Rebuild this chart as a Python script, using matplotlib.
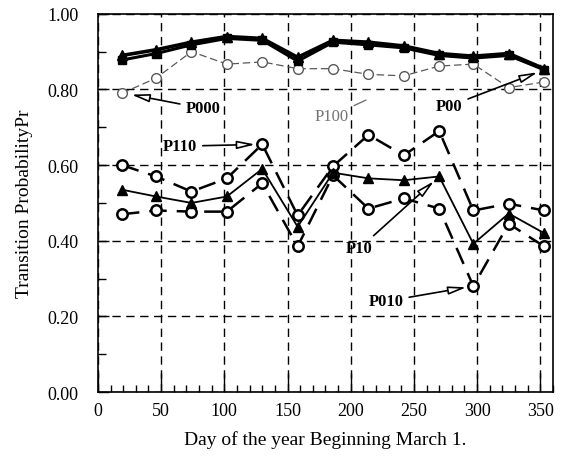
import matplotlib.pyplot as plt
from matplotlib.ticker import MultipleLocator, FormatStrFormatter

plt.rcParams['font.family'] = ['Liberation Serif', 'DejaVu Serif']

# day of year (period centres)
days = [19, 46, 74, 102, 130, 158, 186, 214, 242, 270, 297, 325, 353]

# upper group
p00 = [0.89, 0.905, 0.925, 0.94, 0.935, 0.885, 0.93, 0.925, 0.915, 0.895, 0.888, 0.895, 0.855]
p100 = [0.878, 0.895, 0.918, 0.935, 0.93, 0.875, 0.925, 0.918, 0.91, 0.89, 0.883, 0.89, 0.852]
p000 = [0.79, 0.83, 0.90, 0.867, 0.873, 0.855, 0.855, 0.84, 0.836, 0.862, 0.867, 0.805, 0.82]

# lower group
p110 = [0.60, 0.57, 0.53, 0.565, 0.655, 0.467, 0.597, 0.68, 0.626, 0.69, 0.48, 0.498, 0.48]
p10 = [0.535, 0.517, 0.50, 0.517, 0.59, 0.437, 0.58, 0.565, 0.56, 0.57, 0.392, 0.472, 0.42]
p010 = [0.47, 0.48, 0.477, 0.477, 0.552, 0.385, 0.573, 0.485, 0.512, 0.485, 0.28, 0.445, 0.385]

fig = plt.figure(figsize=(5.66, 4.64), dpi=100)
ax = fig.add_axes([0.173, 0.153, 0.804, 0.815])

circ = dict(marker='o', markersize=7.5, markerfacecolor='white', markeredgecolor='black', markeredgewidth=1.8)

ax.plot(days, p000, color='0.35', lw=0.9, ls=(0, (6, 3)), marker='o', markersize=7,
        markerfacecolor='white', markeredgecolor='0.35', markeredgewidth=1.0, zorder=3)
ax.plot(days, p100, color='black', lw=2.2, marker='s', markersize=6, zorder=4)
ax.plot(days, p00, color='black', lw=2.6, marker='^', markersize=7.5, zorder=5)

ax.plot(days, p110, color='black', lw=1.8, ls=(0, (7, 4)), **circ, zorder=4)
ax.plot(days, p010, color='black', lw=1.8, ls=(0, (7, 4)), **circ, zorder=4)
ax.plot(days, p10, color='black', lw=1.3, marker='^', markersize=7, zorder=5)

ax.set_xlim(0, 360)
ax.set_ylim(0, 1.0)
ax.xaxis.set_major_locator(MultipleLocator(50))
ax.xaxis.set_minor_locator(MultipleLocator(10))
ax.yaxis.set_major_locator(MultipleLocator(0.2))
ax.yaxis.set_minor_locator(MultipleLocator(0.1))
ax.yaxis.set_major_formatter(FormatStrFormatter('%.2f'))
ax.tick_params(axis='x', which='major', direction='in', length=14, width=1, labelsize=13, pad=7)
ax.tick_params(axis='x', which='minor', direction='in', length=5, width=1)
ax.tick_params(axis='y', which='major', direction='in', length=8, width=1, labelsize=13, pad=14)
ax.tick_params(axis='y', which='minor', direction='in', length=6, width=1)
ax.grid(True, which='major', color='black', ls=(0, (6, 4)), lw=1.0)
for s in ax.spines.values():
    s.set_linewidth(1.2)

ax.set_xlabel('Day of the year Beginning March 1.', fontsize=14, labelpad=8)
ax.set_ylabel('Transition ProbabilityPr', fontsize=14, labelpad=10)

arr = dict(arrowstyle='-|>,head_length=0.9,head_width=0.2', color='black', fc='white', lw=1.2,
           shrinkA=2, shrinkB=5)
bold = dict(fontsize=12, fontweight='bold', ha='center', va='center')
ax.annotate('P000', xy=(21, 0.79), xytext=(83, 0.75), arrowprops=arr, **bold)
ax.annotate('P100', xy=(214, 0.775), xytext=(185, 0.73), fontsize=12, color='0.45',
            ha='center', va='center',
            arrowprops=dict(arrowstyle='-', color='0.45', lw=1, shrinkA=2, shrinkB=2))
ax.annotate('P00', xy=(353, 0.852), xytext=(278, 0.756), arrowprops=arr, **bold)
ax.annotate('P110', xy=(130, 0.655), xytext=(65, 0.65), arrowprops=arr, **bold)
ax.annotate('P10', xy=(270, 0.57), xytext=(207, 0.38), arrowprops=arr, **bold)
ax.annotate('P010', xy=(297, 0.28), xytext=(228, 0.24), arrowprops=arr, **bold)

fig.savefig('out.png', dpi=100)
